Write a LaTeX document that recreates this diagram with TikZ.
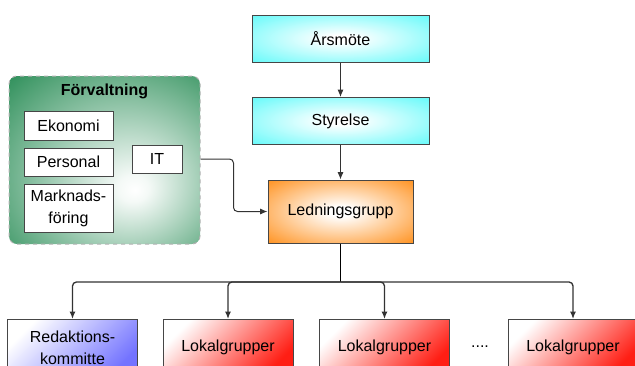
\documentclass[tikz,border=0pt]{standalone}
\usepackage{fontspec}
\setmainfont{Liberation Sans}
\usetikzlibrary{arrows.meta}
\definecolor{boardcyan}{RGB}{100,250,250}
\definecolor{leadorange}{RGB}{255,145,30}
\definecolor{admingreen}{RGB}{40,140,85}
\definecolor{editblue}{RGB}{115,115,255}
\definecolor{localred}{RGB}{255,30,20}
\definecolor{edgegray}{RGB}{70,70,70}
\pgfdeclareradialshading{cyanglow}{\pgfpoint{0bp}{0bp}}{color(0bp)=(white); color(4bp)=(white); color(36bp)=(boardcyan); color(60bp)=(boardcyan)}
\pgfdeclareradialshading{orangeglow}{\pgfpoint{0bp}{0bp}}{color(0bp)=(white); color(4bp)=(white); color(36bp)=(leadorange); color(60bp)=(leadorange)}
\pgfdeclareradialshading{greenglow}{\pgfpoint{8bp}{-9bp}}{color(0bp)=(white); color(4bp)=(white!95!admingreen); color(42bp)=(admingreen); color(70bp)=(admingreen)}
\begin{document}
\begin{tikzpicture}[x=0.75pt,y=-0.75pt,
  every node/.style={font=\fontsize{12}{16.5}\selectfont,align=center,inner sep=0pt},
  unit/.style={draw=edgegray,line width=0.75pt},
  board/.style={unit,shading=cyanglow,minimum width=132.75pt,minimum height=35.25pt},
  lead/.style={unit,shading=orangeglow,minimum width=108.75pt,minimum height=47.25pt},
  office/.style={draw=edgegray,line width=0.75pt,fill=white,minimum width=66.75pt},
  group/.style={unit,top color=white,bottom color=#1,middle color=#1!50!white,shading angle=45,
                minimum width=97.5pt,minimum height=41.25pt},
  link/.style={draw=black!80,line width=0.75pt,-{Latex[length=5.5pt,width=4.5pt]}}]
  \newcommand{\busy}{282}
  \newcommand{\groupy}{347}
  \useasboundingbox (0,0) rectangle (635,365);
  \clip (0,0) rectangle (635,365);
  % top of the tree
  \node[board] (annual) at (340.5,38.5) {Årsmöte};
  \node[board] (board) at (340.5,121) {Styrelse};
  \node[lead] (lead) at (340.5,211.5) {Ledningsgrupp};
  % administration
  \node[draw=black!30,dashed,line width=0.75pt,rounded corners=6pt,shading=greenglow,
        minimum width=143.25pt,minimum height=126pt] (admin) at (104.5,160) {};
  \node[font=\fontsize{12}{16.5}\selectfont\bfseries] (admtitle) at (104.5,91) {Förvaltning};
  \node[office,minimum height=21.75pt] (econ) at (68.5,125.5) {Ekonomi};
  \node[office,minimum height=21pt] (staff) at (68.5,162) {Personal};
  \node[office,minimum height=36pt] (market) at (68.5,208) {Marknads-\\föring};
  \node[office,minimum width=37.5pt,minimum height=21pt] (it) at (157,159) {IT};
  % local level
  \node[group=editblue,minimum height=42.75pt] (edit) at (72.5,\groupy+1) {Redaktions-\\kommitte};
  \node[group=localred] (localA) at (228,\groupy) {Lokalgrupper};
  \node[group=localred] (localB) at (384.5,\groupy) {Lokalgrupper};
  \node (dots) at (480,\groupy) {....};
  \node[group=localred] (localC) at (573,\groupy) {Lokalgrupper};
  % connectors
  \draw[link] (annual) -- (board);
  \draw[link] (board) -- (lead);
  \coordinate (itout) at (admin.east |- it.east);
  \draw[link,rounded corners=3pt] (itout) -- ++(33,0) |- (lead.west);
  \coordinate (bus) at (340.5,\busy);
  \draw[line width=1pt] (lead.south) -- (bus);
  \foreach \g in {edit,localA,localB,localC}
    \draw[link,line width=1pt,rounded corners=3pt] (bus) -| (\g.north);
\end{tikzpicture}
\end{document}
